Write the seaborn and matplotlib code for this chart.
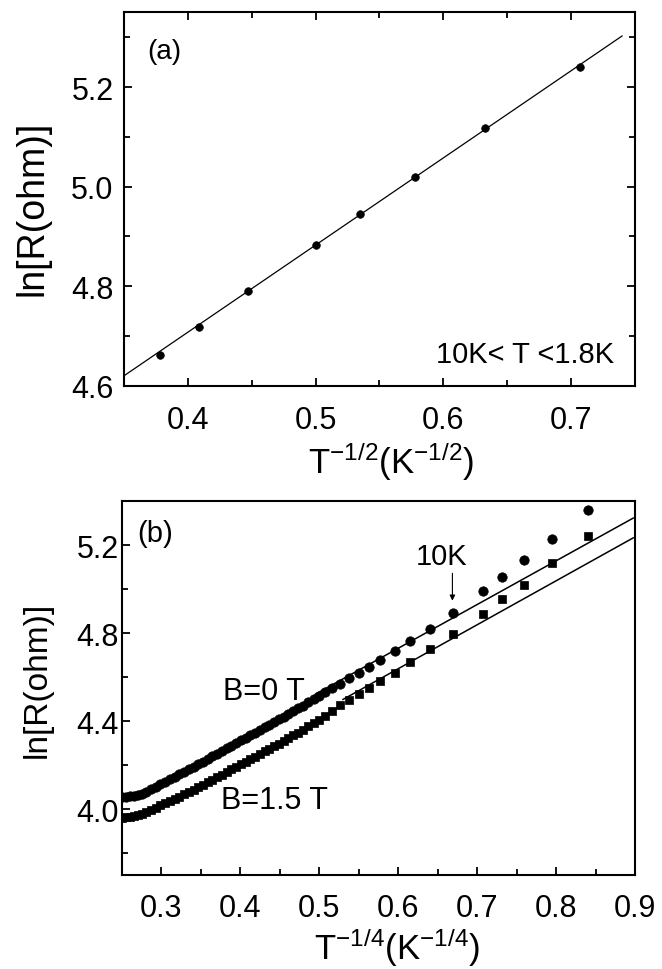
import matplotlib
matplotlib.use("Agg")
import matplotlib.pyplot as plt
import seaborn as sns
import pandas as pd

# panel (a): ln R vs T^-1/2
a_x = [0.378, 0.4085, 0.4468, 0.500, 0.5345, 0.5776, 0.6327, 0.707]
a_y = [4.662, 4.719, 4.790, 4.883, 4.946, 5.019, 5.118, 5.241]
fit_a_x = [0.350, 0.740]
fit_a_y = [4.620, 5.303]

# panel (b): ln R vs T^-1/4, same temperatures for both fields
b_x = [0.251, 0.256, 0.261, 0.266, 0.271, 0.276, 0.281, 0.287, 0.293, 0.299,
       0.305, 0.311, 0.317, 0.323, 0.329, 0.335, 0.341, 0.347, 0.353, 0.359,
       0.365, 0.371, 0.377, 0.383, 0.389, 0.395, 0.401, 0.407, 0.413, 0.419,
       0.425, 0.431, 0.437, 0.443, 0.449, 0.455, 0.461, 0.467, 0.473, 0.479,
       0.486, 0.493, 0.500, 0.508, 0.516, 0.526, 0.538, 0.550, 0.563, 0.577,
       0.596, 0.615, 0.640, 0.670, 0.707, 0.731, 0.759, 0.795, 0.841]
b0_y = [4.053, 4.056, 4.058, 4.060, 4.063, 4.069, 4.078, 4.090, 4.102, 4.114,
        4.125, 4.136, 4.148, 4.159, 4.170, 4.181, 4.192, 4.204, 4.216, 4.228,
        4.240, 4.252, 4.264, 4.276, 4.288, 4.300, 4.312, 4.324, 4.336, 4.348,
        4.360, 4.372, 4.384, 4.396, 4.408, 4.420, 4.432, 4.445, 4.458, 4.471,
        4.486, 4.501, 4.516, 4.533, 4.550, 4.569, 4.594, 4.618, 4.646, 4.676,
        4.721, 4.766, 4.819, 4.894, 4.992, 5.055, 5.132, 5.229, 5.362]
b15_y = [3.960, 3.962, 3.964, 3.967, 3.971, 3.978, 3.987, 3.997, 4.007, 4.017,
         4.027, 4.037, 4.047, 4.057, 4.067, 4.077, 4.088, 4.099, 4.111, 4.122,
         4.134, 4.145, 4.157, 4.168, 4.180, 4.191, 4.203, 4.214, 4.226, 4.238,
         4.250, 4.262, 4.274, 4.286, 4.298, 4.310, 4.322, 4.335, 4.348, 4.361,
         4.376, 4.391, 4.407, 4.424, 4.447, 4.472, 4.497, 4.522, 4.550, 4.582,
         4.618, 4.671, 4.728, 4.796, 4.886, 4.954, 5.019, 5.117, 5.241]
fit_b0_x = [0.495, 0.898]
fit_b0_y = [4.522, 5.324]
fit_b15_x = [0.530, 0.898]
fit_b15_y = [4.498, 5.234]

sns.set_style("ticks")
plt.rcParams['font.family'] = ['Liberation Sans', 'DejaVu Sans']
plt.rcParams['mathtext.fontset'] = 'custom'
plt.rcParams['mathtext.rm'] = 'Liberation Sans'
plt.rcParams['mathtext.default'] = 'regular'
plt.rcParams['text.color'] = 'black'
plt.rcParams['axes.labelcolor'] = 'black'

fig = plt.figure(figsize=(6.62, 9.70), dpi=100)
ax1 = fig.add_axes([0.1873, 0.6013, 0.7719, 0.3848])
ax2 = fig.add_axes([0.1838, 0.0969, 0.7754, 0.3853])

df_a = pd.DataFrame({"x": a_x, "y": a_y})
sns.lineplot(x=fit_a_x, y=fit_a_y, ax=ax1, color="black", linewidth=0.9)
sns.scatterplot(data=df_a, x="x", y="y", ax=ax1, marker="o", s=30,
                color="black", edgecolor="black", linewidth=0.5, zorder=3)

df_b = pd.DataFrame({"x": b_x, "b0": b0_y, "b15": b15_y})
sns.lineplot(x=fit_b0_x, y=fit_b0_y, ax=ax2, color="black", linewidth=1.1)
sns.lineplot(x=fit_b15_x, y=fit_b15_y, ax=ax2, color="black", linewidth=1.1)
sns.scatterplot(data=df_b, x="x", y="b0", ax=ax2, marker="o", s=46,
                color="black", edgecolor="black", linewidth=0.5, zorder=3)
sns.scatterplot(data=df_b, x="x", y="b15", ax=ax2, marker="s", s=34,
                color="black", edgecolor="black", linewidth=0.5, zorder=3)

ax1.set_xlim(0.35, 0.75)
ax1.set_ylim(4.6, 5.35)
ax1.set_xticks([0.4, 0.5, 0.6, 0.7])
ax1.set_xticklabels(["0.4", "0.5", "0.6", "0.7"])
ax1.set_xticks([0.35, 0.45, 0.55, 0.65, 0.75], minor=True)
ax1.set_yticks([4.6, 4.8, 5.0, 5.2])
ax1.set_yticklabels(["4.6", "4.8", "5.0", "5.2"])
ax1.set_yticks([4.7, 4.9, 5.1, 5.3], minor=True)

ax2.set_xlim(0.25, 0.9)
ax2.set_ylim(3.7, 5.4)
ax2.set_xticks([0.3, 0.4, 0.5, 0.6, 0.7, 0.8, 0.9])
ax2.set_xticklabels(["0.3", "0.4", "0.5", "0.6", "0.7", "0.8", "0.9"])
ax2.set_xticks([0.35, 0.45, 0.55, 0.65, 0.75, 0.85], minor=True)
ax2.set_yticks([4.0, 4.4, 4.8, 5.2])
ax2.set_yticklabels(["4.0", "4.4", "4.8", "5.2"])
ax2.set_yticks([3.8, 4.2, 4.6, 5.0], minor=True)

for ax in (ax1, ax2):
    for sp in ax.spines.values():
        sp.set_visible(True)
        sp.set_linewidth(1.5)
        sp.set_color("black")
    ax.tick_params(which="both", direction="in", width=1.3, colors="black", labelsize=22)
    ax.tick_params(which="major", length=6)
    ax.tick_params(which="minor", length=4)

ax1.tick_params(which="both", top=True, right=True)
ax1.tick_params(axis="y", pad=7.5)
ax1.tick_params(axis="x", pad=14)
ax2.tick_params(axis="y", pad=2)
ax2.tick_params(axis="x", pad=13)

ax1.set_xlabel(r"T$^{-1/2}$(K$^{-1/2}$)", fontsize=25, labelpad=3)
ax1.set_ylabel("ln[R(ohm)]", fontsize=27)
ax2.set_xlabel(r"T$^{-1/4}$(K$^{-1/4}$)", fontsize=25, labelpad=2)
ax2.set_ylabel("ln[R(ohm)]", fontsize=24)
ax1.xaxis.label.set_x(0.5225)
ax2.xaxis.label.set_x(0.536)
ax1.yaxis.set_label_coords(-0.143, 0.479)
ax2.yaxis.set_label_coords(-0.134, 0.524)

ax1.text(0.368, 5.272, "(a)", fontsize=20, va="center", ha="left")
ax1.text(0.7336, 4.6476, "10K< T <1.8K", fontsize=21, va="baseline", ha="right")

ax2.text(0.2694, 5.257, "(b)", fontsize=21, va="center", ha="left")
ax2.text(0.6556, 5.113, "10K", fontsize=21, va="baseline", ha="center")
ax2.annotate("", xy=(0.6688, 4.935), xytext=(0.6688, 5.085),
             arrowprops=dict(arrowstyle="-|>", color="black", lw=0.8,
                             mutation_scale=8))
ax2.text(0.378, 4.502, "B=0 T", fontsize=22, va="baseline", ha="left")
ax2.text(0.3757, 4.004, "B=1.5 T", fontsize=22, va="baseline", ha="left")

fig.savefig("out.png", dpi=100)
